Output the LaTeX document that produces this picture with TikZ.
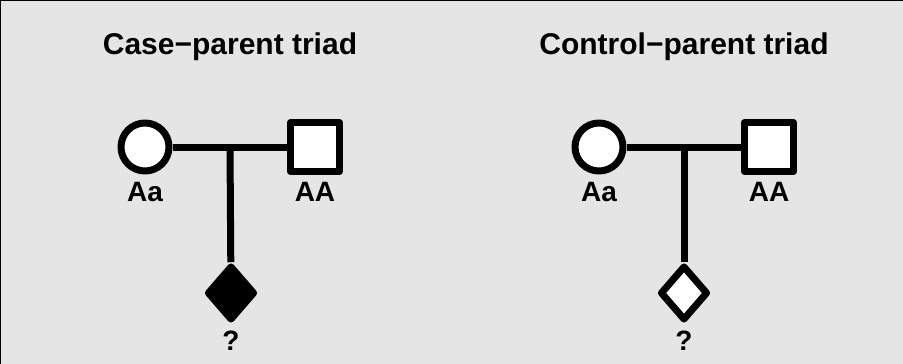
\documentclass[tikz,border=0pt]{standalone}
\usepackage{fontspec}
\setmainfont{Liberation Sans}
\usetikzlibrary{shapes.geometric,calc}

\definecolor{panelgray}{RGB}{229,229,229}

\begin{document}
\begin{tikzpicture}[x=0.75pt,y=0.75pt,yscale=-1,xscale=1,
    line width=5.25pt, line join=round,
    female/.style={circle, draw, fill=white, inner sep=0pt, minimum size=36pt},
    male/.style={rectangle, draw, fill=white, inner sep=0pt, minimum size=36.75pt},
    child/.style={diamond, draw, inner sep=0pt, minimum width=36pt, minimum height=41.25pt},
    geno/.style={anchor=base, inner sep=0pt, font=\fontsize{21}{24}\selectfont\bfseries},
    heading/.style={anchor=base, inner sep=0pt, font=\fontsize{22.5}{26}\selectfont\bfseries}]
    \useasboundingbox (0,0) rectangle (903,364);

    % grey panel with dark top and left edge
    \fill [panelgray] (0,0) rectangle (903,364);
    \draw [line width=1.2pt, line cap=rect] (0.5,364) -- (0.5,0.5) -- (903,0.5);

    % Case-parent triad
    \node [heading] (title1) at (230,54) {Case−parent triad};
    \node [female] (mom1) at (145,147) {};
    \node [male] (dad1) at (315,147) {};
    \node [child, fill=black] (kid1) at (231,293) {};
    \coordinate (mid1) at ($(mom1)!0.5!(dad1)$);
    \draw (mom1) -- (dad1);
    \draw (mid1) -- (kid1);
    % Text Node
    \node [geno] (gmom1) at (145,201) {Aa};
    \node [geno] (gdad1) at (315,201) {AA};
    \node [geno] (gkid1) at (231,350) {?};

    % Control-parent triad
    \node [heading] (title2) at (684,54) {Control−parent triad};
    \node [female] (mom2) at (599,147) {};
    \node [male] (dad2) at (769,147) {};
    \node [child, fill=white] (kid2) at (684,293) {};
    \coordinate (mid2) at ($(mom2)!0.5!(dad2)$);
    \draw (mom2) -- (dad2);
    \draw (mid2) -- (kid2);
    % Text Node
    \node [geno] (gmom2) at (599,201) {Aa};
    \node [geno] (gdad2) at (769,201) {AA};
    \node [geno] (gkid2) at (684,350) {?};
\end{tikzpicture}
\end{document}
